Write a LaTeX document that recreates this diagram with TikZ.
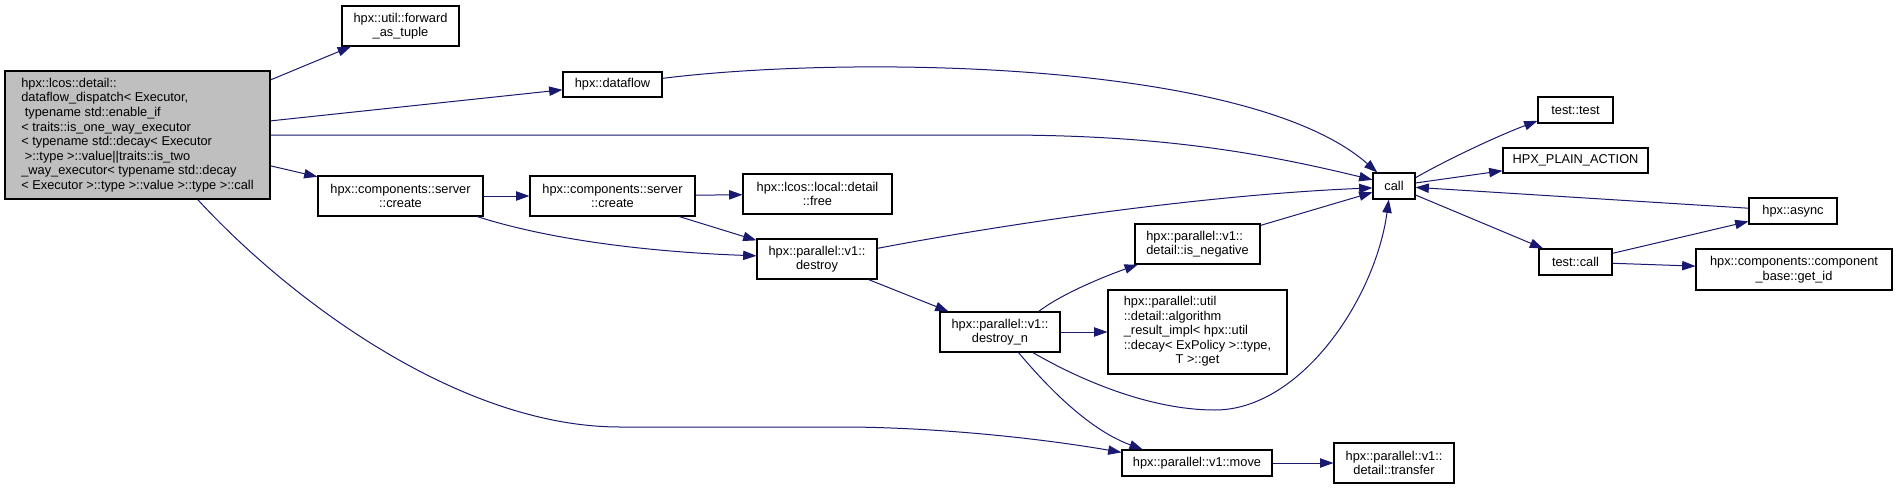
\documentclass[tikz,border=0pt]{standalone}
\usepackage{fontspec}
\setmainfont{Liberation Sans}
\usetikzlibrary{arrows.meta}
\definecolor{edgeblue}{HTML}{191970}
\definecolor{mainfill}{HTML}{BFBFBF}

\begin{document}
\begin{tikzpicture}[x=0.75pt, y=-0.75pt,
  font=\fontsize{9.6}{10.9}\selectfont,
  fn/.style={draw=black, line width=0.8pt, fill=white, inner sep=0pt, align=center},
  link/.style={draw=edgeblue, line width=0.75pt, -{Triangle[length=10pt,width=7pt]}}]
  \fill[white] (0,0) rectangle (1896,489);
  \useasboundingbox (0,0) rectangle (1896,489);
  % Fonction appelante
  \node[fn, fill=mainfill, align=left, minimum width=198.75pt, minimum height=96pt] (main) at (137.5,135)
    {hpx::lcos::detail::\\dataflow\_dispatch< Executor,\\~typename std::enable\_if\\< traits::is\_one\_way\_executor\\< typename std::decay< Executor\\~>::type >::value||traits::is\_two\\\_way\_executor< typename std::decay\\< Executor >::type >::value >::type >::call};
  % Premier niveau
  \node[fn, minimum width=87.75pt, minimum height=30pt] (fwd) at (400.5,26) {hpx::util::forward\\\_as\_tuple};
  \node[fn, minimum width=74.25pt, minimum height=18.75pt] (dflow) at (612.5,84.5) {hpx::dataflow};
  \node[fn, minimum width=123.75pt, minimum height=30pt] (create1) at (400.5,196) {hpx::components::server\\::create};
  \node[fn, minimum width=123.75pt, minimum height=30pt] (create2) at (612.5,196) {hpx::components::server\\::create};
  \node[fn, minimum width=111.75pt, minimum height=30pt] (lfree) at (817.5,194) {hpx::lcos::local::detail\\::free};
  \node[fn, minimum width=90pt, minimum height=30pt] (destroy) at (817,259) {hpx::parallel::v1::\\destroy};
  % Algorithmes paralleles
  \node[fn, align=left, minimum width=93.75pt, minimum height=30pt] (isneg) at (1197.5,244) {hpx::parallel::v1::\\detail::is\_negative};
  \node[fn, minimum width=90pt, minimum height=30pt] (destroyn) at (1000,332) {hpx::parallel::v1::\\destroy\_n};
  \node[fn, minimum width=134.25pt, minimum height=63pt] (algres) at (1197.5,332)
    {\begin{tabular}{@{}l@{}}hpx::parallel::util\\::detail::algorithm\\\_result\_impl< hpx::util\\::decay< ExPolicy >::type,\\\multicolumn{1}{@{}c@{}}{T >::get}\end{tabular}};
  \node[fn, minimum width=112.5pt, minimum height=19.5pt] (pmove) at (1197,463) {hpx::parallel::v1::move};
  \node[fn, minimum width=90pt, minimum height=30pt] (transfer) at (1394,463) {hpx::parallel::v1::\\detail::transfer};
  % Appel et suite
  \node[fn, minimum width=31.5pt, minimum height=19.5pt] (call) at (1394,186) {call};
  \node[fn, minimum width=56.25pt, minimum height=19.5pt] (testtest) at (1575.5,110) {test::test};
  \node[fn, minimum width=108.75pt, minimum height=18.75pt] (plain) at (1575.5,160.5) {HPX\_PLAIN\_ACTION};
  \node[fn, minimum width=66pt, minimum height=19.5pt] (async) at (1793,211) {hpx::async};
  \node[fn, minimum width=54.75pt, minimum height=19.5pt] (testcall) at (1575.5,262) {test::call};
  \node[fn, minimum width=147pt, minimum height=30.75pt] (getid) at (1794,269.5) {hpx::components::component\\\_base::get\_id};
  % Liens droits
  \foreach \a/\b in {main/fwd, main/dflow, main/create1, create1/create2, create2/lfree,
      create2/destroy, destroy/destroyn, destroyn/algres, isneg/call, pmove/transfer,
      call/plain, async/call, call/testcall, testcall/async, testcall/getid}
    \draw[link] (\a) -- (\b);
  % Liens courbes
  \draw[link] (main.east) -- (1000,135) .. controls (1150,135) and (1250,150) .. (call.164);
  \draw[link] (main.-47.6) .. controls (290,300) and (460,427) .. (620,427) -- (850,427)
    .. controls (950,428) and (1050,440) .. (pmove.172);
  \draw[link] (dflow.7.5) .. controls (850,55) and (1250,60) .. (call.141);
  \draw[link] (create1.-15.6) .. controls (550,240) and (650,252) .. (destroy.177);
  \draw[link] (destroy.10) .. controls (1000,225) and (1200,195) .. (call.185);
  \draw[link] (destroyn.28) .. controls (1060,295) and (1100,278) .. (isneg.199);
  \draw[link] (destroyn.-32) .. controls (1080,380) and (1150,410) .. (1215,410)
    .. controls (1300,410) and (1375,300) .. (call.-111);
  \draw[link] (destroyn.-48) .. controls (1050,390) and (1090,430) .. (pmove.166.5);
  \draw[link] (call.21) .. controls (1450,158) and (1500,135) .. (testtest.196);
\end{tikzpicture}
\end{document}
